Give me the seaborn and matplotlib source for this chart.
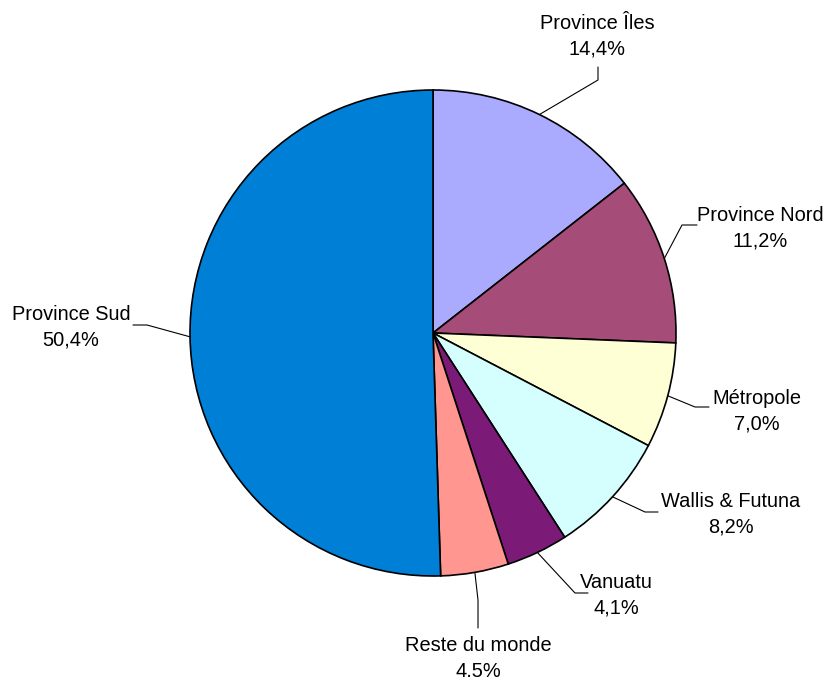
import numpy as np
import matplotlib
matplotlib.use("Agg")
import matplotlib.pyplot as plt
import seaborn as sns

categories = ["Province Îles", "Province Nord", "Métropole", "Wallis & Futuna",
              "Vanuatu", "Reste du monde", "Province Sud"]
values = [14.4, 11.2, 7.0, 8.2, 4.1, 4.5, 50.4]
pct_labels = ["14,4%", "11,2%", "7,0%", "8,2%", "4,1%", "4,5%", "50,4%"]
colors = ["#AAAAFF", "#A64C79", "#FFFFD6", "#D5FFFF", "#7C1A78", "#FF9690", "#007FD6"]

sns.set_theme(style="white")
plt.rcParams['font.family'] = ['Liberation Sans', 'DejaVu Sans']

W, H = 827, 677
fig = plt.figure(figsize=(W / 100, H / 100), dpi=100)
ax = fig.add_axes([0, 0, 1, 1])
ax.set_xlim(0, W)
ax.set_ylim(0, H)
ax.set_aspect('equal')
ax.axis('off')

cx, cy, R = 433, H - 333, 243
wedges, _ = ax.pie(values, colors=colors, startangle=90, counterclock=False,
                   radius=R, center=(cx, cy),
                   wedgeprops=dict(edgecolor='black', linewidth=1.2))
ax.set_xlim(0, W)
ax.set_ylim(0, H)
ax.set_aspect('equal')

# layout: elbow point, line end point, label centre (pixel coords, y down)
layout = [
    ((598, 80), (598, 67), (597, 36)),
    ((682, 225), (697, 225), (760, 228)),
    ((695, 407), (709, 407), (757, 411)),
    ((645, 512), (658, 512), (731, 514)),
    ((575, 593), (588, 593), (616, 595)),
    ((478, 600), (478, 628), (478, 658)),
    ((147, 325), (133, 325), (71, 327)),
]

for w, lab, pct, (elb, end, txt) in zip(wedges, categories, pct_labels, layout):
    ang = np.deg2rad((w.theta1 + w.theta2) / 2)
    sx = cx + R * np.cos(ang)
    sy = cy + R * np.sin(ang)
    xs = [sx, elb[0], end[0]]
    ys = [sy, H - elb[1], H - end[1]]
    ax.plot(xs, ys, color='black', linewidth=0.8)
    ax.text(txt[0], H - txt[1], f"{lab}\n{pct}", ha='center', va='center',
            multialignment='center', fontsize=14.4, color='black', linespacing=1.45)

fig.savefig("out.png", dpi=100, facecolor='white')
